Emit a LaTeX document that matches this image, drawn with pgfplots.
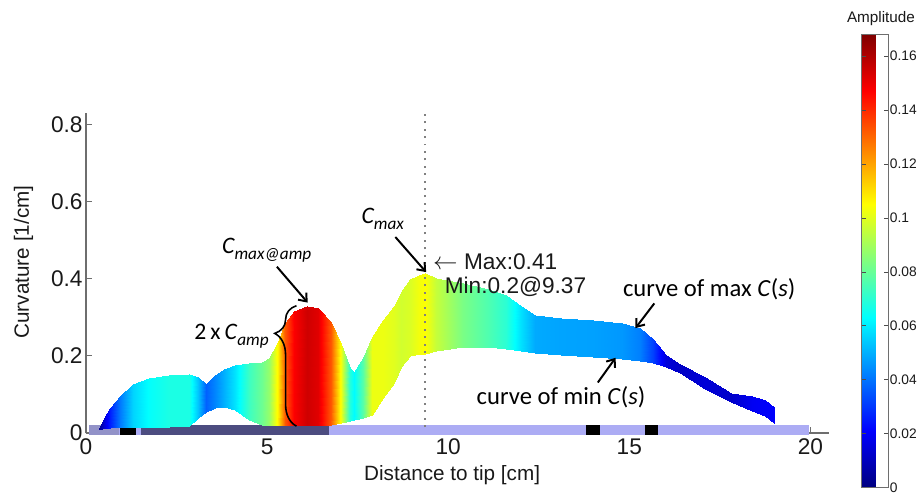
\documentclass[border=0pt]{standalone}
\usepackage{fontspec}
\setmainfont{Liberation Sans}
\newfontfamily\cali{Carlito}
\usepackage{pgfplots}
\usepackage{pgfplotstable}
\pgfplotsset{compat=1.18}
\usetikzlibrary{arrows.meta,decorations.pathreplacing}

% band: first the curve of max C(s), then the curve of min C(s); m = amplitude
\pgfplotstableread{
x y m
0.35 0.012 0.002
0.5 0.040 0.014
0.65 0.066 0.026
0.95 0.097 0.041
1.3 0.127 0.056
1.75 0.143 0.0635
2.3 0.151 0.0675
2.85 0.153 0.0675
3.08 0.145 0.0535
3.3 0.128 0.037
3.55 0.150 0.043
3.8 0.167 0.050
4.1 0.177 0.0585
4.5 0.181 0.073
4.85 0.183 0.081
5.05 0.195 0.0875
5.3 0.235 0.1075
5.5 0.285 0.1325
5.75 0.315 0.1475
6.1 0.330 0.155
6.4 0.324 0.152
6.75 0.287 0.1325
7.05 0.232 0.103
7.3 0.168 0.069
7.4 0.159 0.0625
7.65 0.195 0.0775
7.9 0.250 0.102
8.2 0.294 0.102
8.5 0.330 0.100
8.7 0.365 0.0975
8.95 0.398 0.099
9.2 0.410 0.103
9.37 0.414 0.1045
9.65 0.403 0.0955
10.4 0.388 0.083
11.1 0.374 0.076
11.6 0.357 0.070
12.0 0.328 0.058
12.4 0.305 0.049
13.1 0.298 0.048
14.0 0.292 0.0475
14.8 0.285 0.046
15.3 0.272 0.042
15.65 0.244 0.0315
16.0 0.202 0.015
16.4 0.178 0.0115
17.1 0.144 0.0145
17.8 0.105 0.012
18.4 0.096 0.019
18.75 0.085 0.020
19.0 0.067 0.0205
0.35 0.008 0.002
0.5 0.012 0.014
0.65 0.014 0.026
0.95 0.015 0.041
1.3 0.015 0.056
1.75 0.016 0.0635
2.3 0.016 0.0675
2.85 0.018 0.0675
3.08 0.038 0.0535
3.3 0.054 0.037
3.55 0.064 0.043
3.8 0.067 0.050
4.1 0.060 0.0585
4.5 0.035 0.073
4.85 0.021 0.081
5.05 0.020 0.0875
5.3 0.020 0.1075
5.5 0.020 0.1325
5.75 0.020 0.1475
6.1 0.020 0.155
6.4 0.020 0.152
6.75 0.022 0.1325
7.05 0.026 0.103
7.3 0.030 0.069
7.4 0.034 0.0625
7.65 0.040 0.0775
7.9 0.046 0.102
8.2 0.090 0.102
8.5 0.130 0.100
8.7 0.170 0.0975
8.95 0.200 0.099
9.2 0.204 0.103
9.37 0.205 0.1045
9.65 0.212 0.0955
10.4 0.222 0.083
11.1 0.222 0.076
11.6 0.217 0.070
12.0 0.212 0.058
12.4 0.207 0.049
13.1 0.202 0.048
14.0 0.197 0.0475
14.8 0.193 0.046
15.3 0.188 0.042
15.65 0.181 0.0315
16.0 0.172 0.015
16.4 0.155 0.0115
17.1 0.115 0.0145
17.8 0.081 0.012
18.4 0.058 0.019
18.75 0.045 0.020
19.0 0.026 0.0205
}\band

\definecolor{barL}{RGB}{172,172,244}
\definecolor{barG}{RGB}{146,146,200}
\definecolor{barD}{RGB}{76,76,128}
\definecolor{axgray}{RGB}{110,110,110}

\begin{document}
\begin{tikzpicture}
\begin{axis}[
  name=main,
  at={(0,0)}, anchor=south west,
  scale only axis,
  width=751bp, height=324bp,
  xmin=0, xmax=20.5, ymin=0, ymax=0.83,
  axis lines*=left,
  clip=false,
  axis line style={draw=axgray, line width=1.2bp},
  tick style={draw=axgray, line width=1.1bp},
  tick align=inside,
  major tick length=6bp,
  xtick={0,5,10,15,20},
  ytick={0,0.2,0.4,0.6,0.8},
  yticklabels={0,0.2,0.4,0.6,0.8},
  /pgf/number format/assume math mode=true,
  ticklabel style={font=\fontsize{23}{26}\selectfont, text=black!90},
  xticklabel style={yshift=-2bp},
  xlabel={Distance to tip [cm]},
  ylabel={Curvature [1/cm]},
  label style={font=\fontsize{21}{24}\selectfont, text=black!90},
  xlabel style={at={(axis description cs:0.493,-0.13)}, anchor=center},
  ylabel style={at={(axis description cs:-0.084,0.534)}, anchor=center},
  colormap/jet,
  point meta min=0, point meta max=0.168,
  colorbar,
  colorbar style={
    at={(parent axis.south east)}, anchor=south west,
    xshift=25bp, yshift=-55bp,
    scale only axis,
    width=27bp, height=458bp,
    axis line style={draw=axgray, line width=0.8bp},
    ytick={0,0.02,0.04,0.06,0.08,0.1,0.12,0.14,0.16},
    yticklabels={0,0.02,0.04,0.06,0.08,0.1,0.12,0.14,0.16},
    yticklabel style={font=\fontsize{14}{16}\selectfont, text=black!90, xshift=-2bp},
    major tick length=4bp,
    tick style={draw=black!70, line width=0.6bp},
    title={Amplitude},
    title style={font=\fontsize{15.5}{17}\selectfont, text=black!90, xshift=6bp, yshift=0bp},
  },
]
% bottom segment bar
\addplot[fill=barL, draw=none, forget plot] coordinates {(0.08,-0.004) (19.95,-0.004) (19.95,0.02) (0.08,0.02)} -- cycle;
\addplot[fill=barG, draw=none, forget plot] coordinates {(0.08,-0.004) (0.9,-0.004) (0.9,0.02) (0.08,0.02)} -- cycle;
\addplot[fill=black, draw=none, forget plot] coordinates {(0.93,-0.004) (1.37,-0.004) (1.37,0.02) (0.93,0.02)} -- cycle;
\addplot[fill=barD, draw=none, forget plot] coordinates {(1.53,-0.004) (6.7,-0.004) (6.7,0.02) (1.53,0.02)} -- cycle;
\addplot[fill=black, draw=none, forget plot] coordinates {(13.8,-0.004) (14.2,-0.004) (14.2,0.02) (13.8,0.02)} -- cycle;
\addplot[fill=black, draw=none, forget plot] coordinates {(15.44,-0.004) (15.8,-0.004) (15.8,0.02) (15.44,0.02)} -- cycle;

% amplitude-coloured band between min and max curvature
\addplot[surf, shader=interp, mesh/rows=2, point meta=explicit]
  table[x=x, y=y, meta=m] {\band};

% dotted line at s = 9.37
\addplot[draw=gray, line width=2bp, dash pattern=on 2bp off 5.5bp, forget plot]
  coordinates {(9.37,0.015) (9.37,0.83)};

% annotations
\node[font=\cali\fontsize{24}{26}\selectfont\itshape, anchor=center] at (axis cs:4.99,0.474)
  {C\raisebox{-6bp}{\fontsize{17.5}{17}\selectfont max@amp}};
\draw[line width=2bp, -{Straight Barb[length=7bp,width=11bp]}] (axis cs:5.27,0.431) -- (axis cs:6.12,0.338);

\node[font=\cali\fontsize{24}{26}\selectfont\itshape, anchor=center] at (axis cs:8.19,0.556)
  {C\raisebox{-6bp}{\fontsize{17.5}{17}\selectfont max}};
\draw[line width=2bp, -{Straight Barb[length=7bp,width=11bp]}] (axis cs:8.54,0.508) -- (axis cs:9.39,0.417);

\node[font=\cali\fontsize{24}{26}\selectfont, anchor=east, inner sep=0pt] at (axis cs:5.05,0.25)
  {2\,x\,\textit{C}\raisebox{-6bp}{\fontsize{17.5}{17}\selectfont\itshape amp}};
\draw[line width=1.6bp, decorate, decoration={brace, amplitude=22bp, aspect=0.77}]
  (axis cs:5.81,0.018) -- (axis cs:5.81,0.33);

\node[font=\fontsize{23}{25}\selectfont, anchor=west, inner sep=0pt, text=black!90] at (axis cs:9.58,0.444)
  {$\leftarrow$\ Max:0.41};
\node[font=\fontsize{23}{25}\selectfont, anchor=west, inner sep=0pt, text=black!90] at (axis cs:9.9,0.379)
  {Min:0.2@9.37};

\node[font=\cali\fontsize{25}{27}\selectfont, anchor=west, inner sep=0pt] at (axis cs:14.82,0.372)
  {curve of max \textit{C}(\textit{s})};
\draw[line width=2bp, -{Straight Barb[length=7bp,width=11bp]}] (axis cs:15.69,0.336) -- (axis cs:15.17,0.272);

\node[font=\cali\fontsize{25}{27}\selectfont, anchor=west, inner sep=0pt] at (axis cs:10.78,0.092)
  {curve of min \textit{C}(\textit{s})};
\draw[line width=2bp, -{Straight Barb[length=7bp,width=11bp]}] (axis cs:14.13,0.131) -- (axis cs:14.62,0.195);
\end{axis}
\path (main.south west) ++(-87bp,-68bp) rectangle ++(920bp,506bp);
\end{tikzpicture}
\end{document}
